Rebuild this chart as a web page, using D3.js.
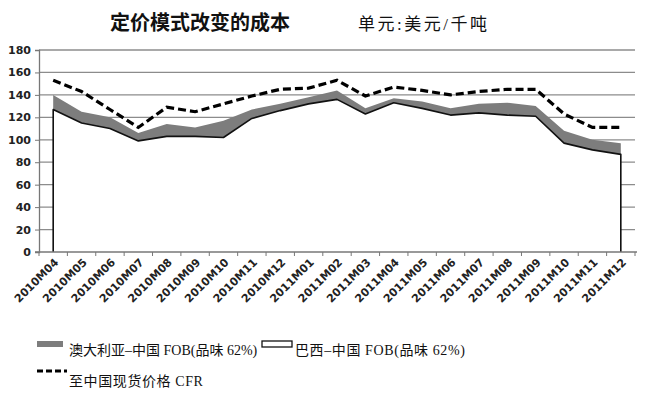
<!DOCTYPE html>
<meta charset="utf-8">
<style>
    body { margin: 0; background: #fff; }
    .tick-lbl { font-family: "DejaVu Sans", Verdana, sans-serif; font-weight: bold; font-size: 11px; fill: #222; }
    .cn { font-family: "Liberation Serif", "Noto Sans CJK SC", serif; fill: #111; }
</style>
<body>
<svg width="653" height="399"></svg>
<script src="https://cdn.jsdelivr.net/npm/d3@7"></script>
<script>
    var months = ["2010M04", "2010M05", "2010M06", "2010M07", "2010M08", "2010M09", "2010M10",
        "2010M11", "2010M12", "2011M01", "2011M02", "2011M03", "2011M04", "2011M05", "2011M06",
        "2011M07", "2011M08", "2011M09", "2011M10", "2011M11", "2011M12"];
    // 澳大利亚-中国 FOB
    var australia = [140, 125, 120, 106, 114, 111, 117, 127, 132, 138, 144, 128, 137, 134, 128, 132, 133, 130, 108, 100, 97];
    // 巴西-中国 FOB
    var brazil = [127, 115, 110, 99, 103, 103, 102, 119, 126, 132, 136, 123, 133, 128, 122, 124, 122, 121, 97, 91, 87];
    // 至中国现货价格 CFR
    var cfr = [153, 143, 127, 111, 129, 125, 132, 139, 145, 146, 153, 139, 147, 144, 140, 143, 145, 145, 123, 111, 111];
    var yTicks = [0, 20, 40, 60, 80, 100, 120, 140, 160, 180];

    var svg = d3.select("svg");

    var x = d3.scaleBand().domain(months).range([39, 635]).padding(0);
    var y = d3.scaleLinear().domain([0, 180]).range([252, 50]);
    var cx = function(i) { return x(months[i]) + x.bandwidth() / 2; };

    // title
    svg.append("text").attr("class", "cn")
        .attr("x", 110).attr("y", 30)
        .attr("font-family", "'Noto Sans CJK SC', sans-serif")
        .attr("font-size", 20).attr("font-weight", "bold")
        .text("定价模式改变的成本");
    svg.append("text").attr("class", "cn")
        .attr("x", 358).attr("y", 30)
        .attr("font-size", 17).attr("letter-spacing", 2.5)
        .text("单元:美元/千吨");

    // gridlines
    svg.append("g").selectAll("line")
        .data(yTicks.slice(1))
        .enter().append("line")
        .attr("x1", 39).attr("x2", 635)
        .attr("y1", function(d) { return y(d); })
        .attr("y2", function(d) { return y(d); })
        .attr("stroke", "#8c8c8c").attr("stroke-width", 1.3);

    // areas
    var areaA = d3.area()
        .x(function(d, i) { return cx(i); })
        .y0(y(0))
        .y1(function(d) { return y(d); });
    svg.append("path").datum(australia)
        .attr("d", areaA)
        .attr("fill", "#7d7d7d");
    svg.append("path").datum(brazil)
        .attr("d", areaA)
        .attr("fill", "#fff");

    // brazil outline incl. the vertical sides
    var outline = [[cx(0), y(0)]].concat(brazil.map(function(d, i) { return [cx(i), y(d)]; }))
        .concat([[cx(brazil.length - 1), y(0)]]);
    svg.append("path")
        .attr("d", d3.line()(outline))
        .attr("fill", "none")
        .attr("stroke", "#111")
        .attr("stroke-width", 1.6)
        .attr("stroke-linejoin", "round");

    // CFR dashed
    svg.append("path").datum(cfr)
        .attr("d", d3.line().x(function(d, i) { return cx(i); }).y(function(d) { return y(d); }))
        .attr("fill", "none")
        .attr("stroke", "#000")
        .attr("stroke-width", 3.2)
        .attr("stroke-dasharray", "8,4");

    // y axis
    var yAxis = svg.append("g")
        .attr("transform", "translate(39,0)")
        .call(d3.axisLeft(y).tickValues(yTicks).tickSize(4).tickFormat(d3.format("d")));
    yAxis.select(".domain").attr("stroke", "#777").attr("stroke-width", 1.3);
    yAxis.selectAll(".tick line").attr("stroke", "#777");
    yAxis.selectAll(".tick text").attr("class", "tick-lbl").attr("x", -8);

    // x axis
    svg.append("line")
        .attr("x1", 35).attr("x2", 637)
        .attr("y1", y(0)).attr("y2", y(0))
        .attr("stroke", "#777").attr("stroke-width", 1.3);
    svg.append("g").selectAll("line")
        .data(months.concat(["end"]))
        .enter().append("line")
        .attr("x1", function(d, i) { return 39 + i * x.bandwidth(); })
        .attr("x2", function(d, i) { return 39 + i * x.bandwidth(); })
        .attr("y1", y(0)).attr("y2", y(0) + 4)
        .attr("stroke", "#777");
    svg.append("g").selectAll("text")
        .data(months)
        .enter().append("text")
        .attr("class", "tick-lbl")
        .attr("text-anchor", "end")
        .attr("transform", function(d, i) { return "translate(" + (cx(i) + 6) + "," + (y(0) + 11) + ") rotate(-45)"; })
        .text(function(d) { return d; });

    // legend
    var lg = svg.append("g");
    lg.append("rect").attr("x", 37).attr("y", 341).attr("width", 26).attr("height", 6).attr("fill", "#7d7d7d");
    lg.append("text").attr("class", "cn").attr("x", 69).attr("y", 355).attr("font-size", 14)
        .text("澳大利亚–中国 FOB(品味 62%)");
    lg.append("rect").attr("x", 262).attr("y", 341).attr("width", 30).attr("height", 6)
        .attr("fill", "#fff").attr("stroke", "#111").attr("stroke-width", 1.3);
    lg.append("text").attr("class", "cn").attr("x", 295).attr("y", 355).attr("font-size", 14)
        .attr("letter-spacing", 0.6)
        .text("巴西–中国 FOB(品味 62%)");
    lg.append("line").attr("x1", 37).attr("x2", 67).attr("y1", 371).attr("y2", 371)
        .attr("stroke", "#000").attr("stroke-width", 3).attr("stroke-dasharray", "6,3");
    lg.append("text").attr("class", "cn").attr("x", 69).attr("y", 386).attr("font-size", 14)
        .attr("letter-spacing", 0.6)
        .text("至中国现货价格 CFR");
</script>
</body>
